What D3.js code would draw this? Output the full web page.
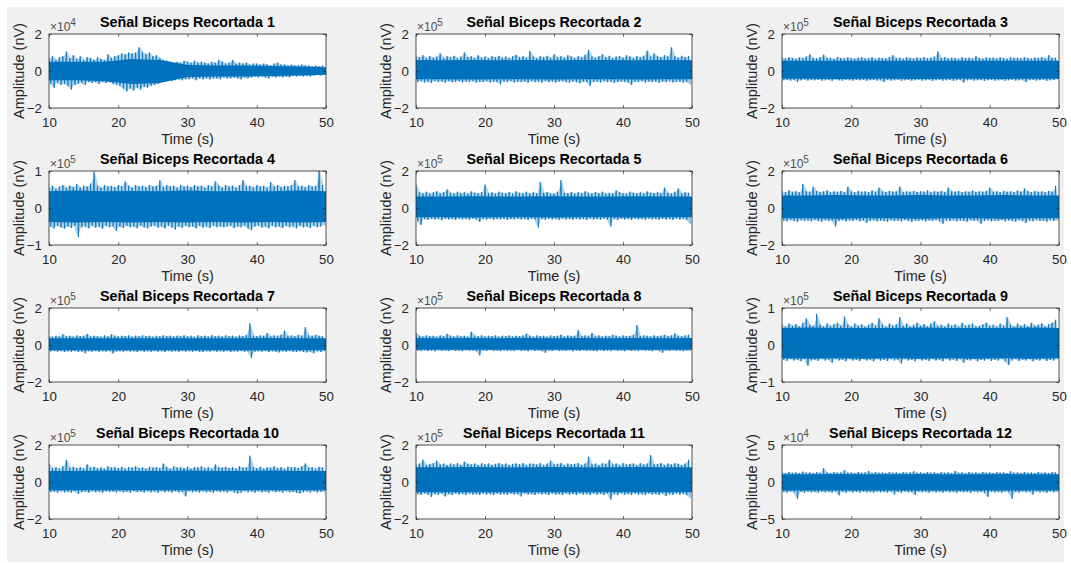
<!DOCTYPE html>
<html><head><meta charset="utf-8">
<script src="https://cdn.jsdelivr.net/npm/d3@7"></script>
<style>
html,body{margin:0;padding:0;background:#fff;}
svg{display:block;font-family:"Liberation Sans",Arial,Helvetica,sans-serif;}
</style></head><body>
<svg id="fig" width="1071" height="563"></svg>
<script>
// Subplot titles, y limits (in units of 10^exponent) and exponents
const titles = [
  "Señal Biceps Recortada 1","Señal Biceps Recortada 2","Señal Biceps Recortada 3",
  "Señal Biceps Recortada 4","Señal Biceps Recortada 5","Señal Biceps Recortada 6",
  "Señal Biceps Recortada 7","Señal Biceps Recortada 8","Señal Biceps Recortada 9",
  "Señal Biceps Recortada 10","Señal Biceps Recortada 11","Señal Biceps Recortada 12"
];
const yLimits   = [2,2,2,1,2,2,2,2,1,2,2,5];
const exponents = [4,5,5,5,5,5,5,5,5,5,5,4];
const timeTicks = [10,20,30,40,50];
const xLabel = "Time (s)";
const yLabel = "Amplitude (nV)";

// Signal envelopes: peak (upper) and trough (lower) per 0.5 s window, 10 s to 50 s
const binStart = 10, binWidth = 0.5;
const upper1 = [0.7,0.8,0.6,0.75,0.8,1.05,0.7,0.85,0.65,0.8,0.6,0.75,0.7,0.6,0.75,0.65,0.6,0.9,0.7,0.8,0.85,0.95,0.9,1.0,0.95,1.0,1.28,1.0,0.9,1.0,0.8,0.85,0.7,0.6,0.55,0.5,0.45,0.5,0.45,0.55,0.5,0.45,0.55,0.45,0.5,0.45,0.4,0.5,0.45,0.6,0.5,0.4,0.45,0.6,0.4,0.45,0.4,0.45,0.35,0.4,0.4,0.35,0.4,0.35,0.3,0.4,0.45,0.35,0.35,0.3,0.35,0.3,0.3,0.35,0.3,0.3,0.25,0.3,0.25,0.3];
const lower1 = [-0.7,-0.9,-0.65,-0.75,-0.7,-0.8,-1.0,-0.75,-0.7,-0.65,-0.75,-0.6,-0.65,-0.6,-0.7,-0.6,-0.65,-0.6,-0.7,-0.75,-0.8,-0.95,-1.1,-0.95,-1.05,-0.9,-1.0,-0.85,-0.9,-0.8,-0.75,-0.7,-0.6,-0.55,-0.5,-0.55,-0.5,-0.45,-0.5,-0.45,-0.45,-0.4,-0.5,-0.4,-0.45,-0.4,-0.45,-0.4,-0.4,-0.45,-0.35,-0.4,-0.4,-0.35,-0.4,-0.45,-0.35,-0.4,-0.35,-0.3,-0.35,-0.3,-0.35,-0.4,-0.3,-0.35,-0.3,-0.35,-0.3,-0.35,-0.25,-0.3,-0.25,-0.3,-0.25,-0.3,-0.25,-0.2,-0.25,-0.2];
const upper2 = [0.8,0.75,0.85,0.7,0.8,0.72,0.78,0.95,0.7,0.8,0.75,0.82,0.7,0.78,1.0,0.75,0.8,0.7,0.85,0.72,0.78,0.7,0.8,0.75,0.82,0.72,0.78,0.7,0.8,0.88,0.75,0.8,0.72,1.08,0.78,0.7,0.8,0.75,0.82,0.72,0.9,0.75,0.8,0.72,0.85,0.78,0.7,0.8,0.75,0.88,1.14,0.78,0.72,0.8,0.9,0.75,0.82,0.7,0.78,0.8,0.72,0.85,0.78,0.7,0.8,0.75,0.82,1.1,0.78,0.95,0.8,0.75,0.85,0.78,1.28,0.8,0.72,0.82,0.75,0.8];
const lower2 = [-0.6,-0.55,-0.62,-0.58,-0.65,-0.55,-0.6,-0.57,-0.63,-0.55,-0.6,-0.58,-0.55,-0.62,-0.57,-0.6,-0.55,-0.63,-0.58,-0.6,-0.55,-0.62,-0.58,-0.6,-0.72,-0.57,-0.6,-0.55,-0.62,-0.58,-0.6,-0.57,-0.63,-0.55,-0.6,-0.58,-0.62,-0.55,-0.6,-0.57,-0.62,-0.58,-0.55,-0.6,-0.63,-0.57,-0.6,-0.66,-0.58,-0.6,-0.8,-0.6,-0.57,-0.62,-0.55,-0.6,-0.58,-0.63,-0.6,-0.57,-0.6,-0.62,-0.75,-0.58,-0.6,-0.55,-0.62,-0.58,-0.6,-0.57,-0.63,-0.58,-0.6,-0.55,-0.62,-0.6,-0.57,-0.62,-0.58,-0.72];
const upper3 = [0.72,0.68,0.75,0.7,0.66,0.74,0.7,0.78,0.9,0.7,0.68,0.75,0.88,0.7,0.72,0.66,0.76,0.7,0.68,0.74,0.7,0.66,0.72,0.75,0.68,0.7,0.74,0.66,0.72,0.7,0.68,0.76,0.85,0.7,0.72,0.66,0.75,0.7,0.68,0.73,0.7,0.75,0.68,0.72,0.78,1.05,0.7,0.74,0.68,0.72,0.7,0.66,0.74,0.7,0.72,0.68,0.8,0.7,0.66,0.74,0.7,0.72,0.68,0.75,0.7,0.66,0.74,0.7,0.72,0.68,0.75,0.7,0.68,0.73,0.7,0.76,0.68,0.85,0.7,0.72];
const lower3 = [-0.5,-0.47,-0.52,-0.48,-0.58,-0.5,-0.46,-0.52,-0.49,-0.5,-0.47,-0.52,-0.5,-0.48,-0.53,-0.46,-0.5,-0.52,-0.48,-0.5,-0.52,-0.48,-0.5,-0.47,-0.53,-0.5,-0.48,-0.52,-0.5,-0.6,-0.48,-0.52,-0.5,-0.47,-0.53,-0.5,-0.48,-0.52,-0.5,-0.47,-0.52,-0.5,-0.48,-0.53,-0.5,-0.47,-0.52,-0.5,-0.48,-0.53,-0.5,-0.48,-0.62,-0.5,-0.47,-0.52,-0.5,-0.48,-0.53,-0.5,-0.47,-0.52,-0.5,-0.48,-0.53,-0.5,-0.47,-0.52,-0.5,-0.48,-0.6,-0.5,-0.48,-0.52,-0.5,-0.47,-0.53,-0.5,-0.48,-0.46];
const upper4 = [0.55,0.6,0.52,0.58,0.62,0.55,0.6,0.57,0.65,0.55,0.6,0.58,0.66,0.98,0.6,0.55,0.62,0.58,0.6,0.56,0.62,0.58,0.72,0.6,0.55,0.62,0.58,0.6,0.56,0.62,0.58,0.6,0.75,0.57,0.62,0.58,0.6,0.55,0.62,0.58,0.6,0.56,0.62,0.58,0.6,0.55,0.62,0.58,0.72,0.6,0.56,0.62,0.58,0.6,0.55,0.62,0.75,0.58,0.6,0.56,0.62,0.58,0.6,0.55,0.7,0.58,0.62,0.56,0.6,0.58,0.62,0.75,0.58,0.6,0.56,0.62,0.58,0.6,1.0,0.62];
const lower4 = [-0.5,-0.55,-0.48,-0.52,-0.56,-0.5,-0.54,-0.48,-0.79,-0.52,-0.5,-0.55,-0.48,-0.53,-0.5,-0.56,-0.48,-0.52,-0.5,-0.62,-0.5,-0.54,-0.48,-0.52,-0.5,-0.55,-0.48,-0.52,-0.55,-0.5,-0.48,-0.53,-0.5,-0.55,-0.48,-0.52,-0.58,-0.5,-0.54,-0.48,-0.52,-0.5,-0.55,-0.48,-0.53,-0.5,-0.54,-0.48,-0.52,-0.5,-0.52,-0.5,-0.48,-0.54,-0.5,-0.52,-0.48,-0.55,-0.6,-0.5,-0.48,-0.53,-0.5,-0.55,-0.48,-0.52,-0.5,-0.54,-0.48,-0.52,-0.5,-0.55,-0.48,-0.52,-0.5,-0.54,-0.48,-0.52,-0.5,-0.46];
const upper5 = [1.26,0.85,0.8,0.88,0.78,0.85,0.9,0.8,0.86,1.0,0.82,0.78,0.88,0.8,0.85,0.78,0.9,0.82,0.8,0.86,1.26,0.8,0.85,0.78,0.88,0.82,0.8,0.86,0.78,0.9,0.82,0.8,0.88,0.78,0.85,0.8,1.4,0.82,0.86,0.8,0.78,0.88,1.5,0.82,0.8,0.86,0.78,0.85,0.8,0.9,0.82,0.78,0.86,0.8,0.88,0.78,0.82,0.8,0.95,0.85,0.8,0.78,0.88,0.82,0.8,0.85,0.78,0.9,0.82,0.8,0.86,0.8,1.1,0.82,0.78,0.88,1.05,0.8,0.85,0.82];
const lower5 = [-0.7,-0.92,-0.6,-0.65,-0.58,-0.62,-0.6,-0.66,-0.58,-0.62,-0.6,-0.65,-0.58,-0.62,-0.6,-0.64,-0.58,-0.62,-0.75,-0.6,-0.62,-0.58,-0.64,-0.6,-0.62,-0.58,-0.65,-0.6,-0.62,-0.58,-0.62,-0.6,-0.65,-0.58,-0.62,-1.05,-0.6,-0.64,-0.58,-0.62,-0.6,-0.65,-0.58,-0.62,-0.6,-0.64,-0.58,-0.62,-0.6,-0.65,-0.58,-0.62,-0.6,-0.64,-0.58,-0.62,-1.0,-0.6,-0.65,-0.58,-0.62,-0.6,-0.64,-0.58,-0.62,-0.6,-0.65,-0.58,-0.62,-0.6,-0.64,-0.58,-0.62,-0.6,-0.65,-0.58,-0.62,-0.6,-0.64,-0.85];
const upper6 = [0.9,0.85,0.95,0.88,0.9,0.85,1.3,0.9,0.88,1.15,0.92,0.86,0.9,0.95,0.85,0.9,0.88,0.92,0.86,1.15,0.9,0.85,0.92,0.88,0.9,0.86,0.95,0.88,1.1,0.9,0.86,0.92,0.88,0.9,1.15,0.85,0.9,0.88,0.92,0.86,0.9,0.88,0.95,0.85,0.9,0.88,0.92,0.86,1.1,0.9,0.88,0.92,0.85,0.9,0.88,0.95,0.86,0.9,0.88,0.92,1.1,0.88,0.9,0.85,0.92,0.88,0.9,0.86,0.95,0.88,1.05,0.9,0.86,0.92,0.88,0.9,0.85,0.92,0.88,1.2];
const lower6 = [-0.68,-0.72,-0.65,-0.7,-0.74,-0.66,-0.7,-0.68,-0.72,-0.65,-0.7,-0.74,-0.66,-0.7,-0.68,-1.0,-0.7,-0.66,-0.72,-0.68,-0.7,-0.65,-0.72,-0.68,-0.8,-0.7,-0.66,-0.72,-0.68,-0.7,-0.74,-0.66,-0.7,-0.68,-0.72,-0.65,-0.7,-0.74,-0.68,-0.7,-0.66,-0.72,-0.68,-0.7,-0.65,-0.72,-0.85,-0.68,-0.7,-0.66,-0.72,-0.68,-0.7,-0.74,-0.66,-0.7,-0.68,-0.85,-0.7,-0.66,-0.72,-0.68,-0.7,-0.65,-0.72,-0.68,-0.7,-0.74,-0.66,-0.7,-0.8,-0.68,-0.72,-0.66,-0.7,-0.68,-0.74,-0.66,-0.7,-0.68];
const upper7 = [0.48,0.45,0.5,0.46,0.58,0.47,0.5,0.45,0.52,0.48,0.5,0.6,0.46,0.5,0.48,0.45,0.52,0.47,0.58,0.5,0.46,0.5,0.48,0.52,0.45,0.5,0.47,0.52,0.48,0.5,0.45,0.5,0.47,0.52,0.48,0.5,0.46,0.5,0.48,0.52,0.47,0.5,0.45,0.52,0.48,0.5,0.46,0.53,0.48,0.5,0.46,0.52,0.48,0.5,0.45,0.52,0.48,0.55,1.17,0.5,0.48,0.52,0.5,0.65,0.48,0.52,0.5,0.55,0.78,0.5,0.52,0.48,0.55,0.5,0.96,0.52,0.5,0.55,0.5,0.48];
const lower7 = [-0.35,-0.32,-0.36,-0.33,-0.38,-0.34,-0.36,-0.32,-0.38,-0.35,-0.45,-0.34,-0.36,-0.33,-0.37,-0.34,-0.36,-0.33,-0.45,-0.35,-0.34,-0.37,-0.33,-0.36,-0.34,-0.38,-0.33,-0.36,-0.34,-0.37,-0.33,-0.36,-0.34,-0.38,-0.33,-0.36,-0.34,-0.37,-0.33,-0.36,-0.34,-0.37,-0.33,-0.36,-0.38,-0.34,-0.36,-0.33,-0.37,-0.34,-0.36,-0.33,-0.38,-0.34,-0.36,-0.33,-0.37,-0.34,-0.7,-0.36,-0.34,-0.37,-0.33,-0.38,-0.34,-0.36,-0.4,-0.34,-0.37,-0.33,-0.36,-0.38,-0.34,-0.37,-0.4,-0.36,-0.45,-0.34,-0.37,-0.35];
const upper8 = [0.65,0.5,0.46,0.52,0.48,0.5,0.45,0.52,0.48,0.6,0.5,0.46,0.52,0.48,0.5,0.45,0.72,0.5,0.48,0.52,0.46,0.5,0.48,0.52,0.45,0.5,0.48,0.52,0.46,0.5,0.48,0.52,0.62,0.5,0.46,0.52,0.48,0.5,0.45,0.52,0.48,0.5,0.55,0.46,0.52,0.48,0.5,0.8,0.48,0.52,0.5,0.65,0.48,0.52,0.46,0.5,0.48,0.55,0.5,0.46,0.52,0.48,0.5,0.55,1.08,0.48,0.52,0.5,0.46,0.52,0.48,0.5,0.55,0.48,0.52,0.62,0.5,0.48,0.52,0.55];
const lower8 = [-0.3,-0.33,-0.28,-0.32,-0.3,-0.34,-0.28,-0.32,-0.3,-0.33,-0.28,-0.32,-0.3,-0.34,-0.28,-0.32,-0.3,-0.33,-0.56,-0.3,-0.32,-0.28,-0.33,-0.3,-0.34,-0.28,-0.32,-0.3,-0.33,-0.28,-0.32,-0.3,-0.34,-0.28,-0.32,-0.3,-0.33,-0.42,-0.3,-0.32,-0.28,-0.33,-0.3,-0.32,-0.28,-0.34,-0.3,-0.32,-0.28,-0.33,-0.3,-0.32,-0.34,-0.28,-0.32,-0.3,-0.33,-0.28,-0.32,-0.3,-0.34,-0.28,-0.32,-0.3,-0.33,-0.28,-0.32,-0.3,-0.34,-0.28,-0.32,-0.42,-0.3,-0.33,-0.28,-0.32,-0.3,-0.34,-0.3,-0.32];
const upper9 = [0.55,0.5,0.58,0.52,0.56,0.5,0.6,0.72,0.55,0.52,0.84,0.55,0.5,0.58,0.52,0.56,0.6,0.52,0.77,0.55,0.5,0.58,0.52,0.56,0.5,0.55,0.6,0.52,0.72,0.55,0.5,0.58,0.52,0.56,0.75,0.52,0.58,0.5,0.55,0.6,0.52,0.56,0.5,0.58,0.64,0.52,0.55,0.5,0.58,0.52,0.56,0.5,0.6,0.52,0.55,0.58,0.5,0.52,0.56,0.6,0.52,0.55,0.5,0.58,0.52,0.75,0.55,0.5,0.58,0.52,0.56,0.5,0.6,0.52,0.55,0.58,0.5,0.56,0.6,0.68];
const lower9 = [-0.4,-0.43,-0.38,-0.42,-0.4,-0.44,-0.38,-0.56,-0.42,-0.4,-0.43,-0.38,-0.42,-0.4,-0.48,-0.38,-0.42,-0.4,-0.44,-0.38,-0.42,-0.4,-0.43,-0.38,-0.42,-0.4,-0.44,-0.38,-0.42,-0.4,-0.43,-0.38,-0.42,-0.4,-0.5,-0.38,-0.42,-0.4,-0.44,-0.38,-0.42,-0.4,-0.43,-0.38,-0.42,-0.4,-0.44,-0.38,-0.42,-0.4,-0.43,-0.38,-0.48,-0.4,-0.42,-0.38,-0.44,-0.4,-0.42,-0.38,-0.43,-0.4,-0.42,-0.38,-0.44,-0.54,-0.42,-0.38,-0.43,-0.4,-0.42,-0.38,-0.44,-0.4,-0.42,-0.38,-0.43,-0.4,-0.42,-0.38];
const upper10 = [1.0,0.75,0.8,0.72,0.85,1.2,0.78,0.82,0.75,0.8,0.72,0.95,0.78,0.82,0.75,0.8,0.72,0.85,0.78,0.8,0.75,0.82,0.72,0.8,0.78,0.85,0.75,0.8,0.72,0.82,0.78,0.8,0.75,1.0,0.8,0.72,0.85,0.78,0.8,0.75,0.82,0.72,0.8,0.78,0.85,0.75,0.8,0.72,0.95,0.8,0.78,0.82,0.75,0.8,0.72,0.85,0.78,0.8,1.42,0.8,0.75,0.82,0.72,0.8,0.78,0.85,0.75,0.8,0.72,0.82,0.78,0.8,0.75,0.85,1.0,0.78,0.8,0.72,0.82,0.78];
const lower10 = [-0.55,-0.52,-0.58,-0.5,-0.56,-0.53,-0.58,-0.5,-0.65,-0.55,-0.52,-0.58,-0.5,-0.56,-0.53,-0.58,-0.5,-0.55,-0.52,-0.57,-0.5,-0.56,-0.53,-0.58,-0.5,-0.55,-0.52,-0.57,-0.5,-0.56,-0.53,-0.58,-0.5,-0.55,-0.52,-0.57,-0.5,-0.56,-0.53,-0.78,-0.5,-0.55,-0.52,-0.57,-0.5,-0.56,-0.53,-0.58,-0.5,-0.55,-0.52,-0.57,-0.5,-0.56,-0.62,-0.58,-0.5,-0.55,-0.52,-0.57,-0.5,-0.56,-0.53,-0.58,-0.5,-0.55,-0.52,-0.57,-0.5,-0.56,-0.53,-0.58,-0.62,-0.55,-0.52,-0.57,-0.5,-0.56,-0.53,-0.55];
const upper11 = [0.95,1.0,1.2,0.92,0.98,1.02,1.15,0.95,1.0,0.92,1.0,0.95,1.02,0.92,1.1,0.98,0.95,1.0,0.92,1.02,0.95,1.0,0.92,0.98,1.02,0.95,1.0,0.92,0.98,1.0,0.95,1.02,0.92,1.0,0.98,0.95,1.02,0.92,1.0,1.15,0.95,0.98,1.02,0.92,1.0,0.95,0.98,1.02,0.92,1.0,1.37,0.95,1.0,0.92,1.02,0.98,1.2,0.95,1.0,0.92,1.02,0.95,0.98,1.0,0.92,1.02,0.95,1.0,1.46,0.95,0.98,1.02,0.92,1.0,0.95,1.02,0.98,0.92,1.0,1.2];
const lower11 = [-0.65,-0.7,-0.62,-0.68,-0.8,-0.65,-0.7,-0.62,-0.78,-0.66,-0.7,-0.62,-0.68,-0.65,-0.7,-0.62,-0.68,-0.66,-0.7,-0.62,-0.68,-0.65,-0.7,-0.62,-0.68,-0.66,-0.7,-0.62,-0.68,-0.65,-0.78,-0.62,-0.68,-0.66,-0.7,-0.62,-0.68,-0.65,-0.7,-0.62,-0.68,-0.66,-0.7,-0.62,-0.68,-0.65,-0.7,-0.62,-0.68,-0.66,-0.7,-0.62,-0.68,-0.65,-0.7,-0.62,-0.95,-0.66,-0.7,-0.62,-0.68,-0.65,-0.7,-0.62,-0.68,-0.66,-0.7,-0.62,-0.68,-0.65,-0.7,-0.62,-0.75,-0.66,-0.7,-0.62,-0.68,-0.65,-0.7,-0.85];
const upper12 = [1.3,1.2,1.35,1.25,1.3,1.2,1.4,1.25,1.3,1.22,1.35,1.25,1.9,1.3,1.2,1.35,1.25,1.3,1.6,1.25,1.3,1.2,1.35,1.25,1.3,1.5,1.22,1.35,1.25,1.3,1.2,1.35,1.25,1.3,1.22,1.35,1.25,1.3,1.45,1.25,1.3,1.22,1.35,1.25,1.3,1.2,1.35,1.25,1.3,1.22,1.5,1.25,1.3,1.22,1.35,1.25,1.3,1.2,1.35,1.25,1.3,1.22,1.35,1.25,1.3,1.2,1.45,1.25,1.3,1.22,1.35,1.25,1.3,1.2,1.35,1.25,1.3,1.22,1.35,1.3];
const lower12 = [-1.35,-1.45,-1.3,-1.4,-2.25,-1.35,-1.45,-1.3,-1.4,-1.35,-1.45,-1.3,-1.4,-1.35,-1.45,-1.3,-1.8,-1.35,-1.45,-1.3,-1.4,-1.35,-1.45,-1.3,-1.4,-1.35,-1.45,-1.3,-1.4,-1.35,-1.45,-1.3,-1.7,-1.35,-1.45,-1.3,-1.4,-1.35,-1.75,-1.3,-1.4,-1.35,-1.45,-1.3,-1.4,-1.35,-1.45,-1.3,-1.4,-1.35,-1.45,-1.3,-1.4,-1.35,-1.45,-1.3,-1.4,-1.35,-1.45,-2.0,-1.3,-1.4,-1.35,-1.45,-1.3,-1.4,-2.25,-1.35,-1.45,-1.3,-1.4,-1.35,-1.7,-1.3,-1.4,-1.35,-1.45,-1.3,-1.4,-1.35];

// Dense core of each signal, sampled every 4 s
const coreTimes = [10,14,18,22,26,30,34,38,42,46,50];
const coreHigh = [
  [0.5,0.5,0.5,0.65,0.6,0.33,0.3,0.3,0.27,0.24,0.2],
  [0.6,0.58,0.6,0.58,0.6,0.58,0.6,0.6,0.58,0.6,0.58],
  [0.55,0.55,0.56,0.55,0.55,0.56,0.55,0.55,0.56,0.55,0.55],
  [0.45,0.47,0.45,0.46,0.45,0.47,0.45,0.46,0.45,0.47,0.45],
  [0.62,0.62,0.63,0.62,0.62,0.63,0.62,0.62,0.63,0.62,0.62],
  [0.68,0.68,0.7,0.68,0.68,0.7,0.68,0.68,0.7,0.68,0.68],
  [0.36,0.36,0.37,0.36,0.36,0.37,0.36,0.37,0.38,0.37,0.36],
  [0.38,0.37,0.38,0.37,0.38,0.37,0.38,0.37,0.38,0.37,0.38],
  [0.46,0.47,0.46,0.46,0.46,0.47,0.46,0.46,0.46,0.47,0.46],
  [0.6,0.6,0.62,0.6,0.6,0.62,0.6,0.6,0.62,0.6,0.6],
  [0.8,0.8,0.81,0.8,0.8,0.81,0.8,0.8,0.81,0.8,0.8],
  [1.05,1.05,1.07,1.05,1.05,1.07,1.05,1.05,1.07,1.05,1.05]
];
const coreLow = [
  [-0.5,-0.5,-0.55,-0.7,-0.65,-0.33,-0.3,-0.3,-0.27,-0.24,-0.2],
  [-0.45,-0.45,-0.46,-0.45,-0.45,-0.46,-0.45,-0.45,-0.46,-0.45,-0.45],
  [-0.42,-0.42,-0.43,-0.42,-0.42,-0.43,-0.42,-0.42,-0.43,-0.42,-0.42],
  [-0.38,-0.39,-0.38,-0.39,-0.38,-0.39,-0.38,-0.39,-0.38,-0.39,-0.38],
  [-0.5,-0.5,-0.51,-0.5,-0.5,-0.51,-0.5,-0.5,-0.51,-0.5,-0.5],
  [-0.56,-0.56,-0.58,-0.56,-0.56,-0.58,-0.56,-0.56,-0.58,-0.56,-0.56],
  [-0.28,-0.28,-0.29,-0.28,-0.28,-0.29,-0.28,-0.28,-0.29,-0.28,-0.28],
  [-0.25,-0.25,-0.26,-0.25,-0.25,-0.26,-0.25,-0.25,-0.26,-0.25,-0.25],
  [-0.36,-0.37,-0.36,-0.37,-0.36,-0.37,-0.36,-0.37,-0.36,-0.37,-0.36],
  [-0.44,-0.44,-0.45,-0.44,-0.44,-0.45,-0.44,-0.44,-0.45,-0.44,-0.44],
  [-0.55,-0.55,-0.56,-0.55,-0.55,-0.56,-0.55,-0.55,-0.56,-0.55,-0.55],
  [-1.15,-1.15,-1.16,-1.15,-1.15,-1.16,-1.15,-1.15,-1.16,-1.15,-1.15]
];

const uppers = [upper1,upper2,upper3,upper4,upper5,upper6,upper7,upper8,upper9,upper10,upper11,upper12];
const lowers = [lower1,lower2,lower3,lower4,lower5,lower6,lower7,lower8,lower9,lower10,lower11,lower12];

// Figure layout
const W = 1071, H = 563;
const colLeft = [49, 416, 782];
const colWidth = [277, 276, 277];
const rowTop = [34, 171, 308, 445];
const axH = 74;
const lineColor = "#0072BD";
const axisColor = "#262626";
const tickLen = 2.8;
const fontStack = '"Liberation Sans",Arial,Helvetica,sans-serif';

const svg = d3.select("#fig");
svg.append("rect").attr("x", 7).attr("y", 7).attr("width", W - 14).attr("height", H - 8)
  .attr("fill", "#f0f0f0");

titles.forEach((title, k) => {
  const r = Math.floor(k / 3), c = k % 3;
  const left = colLeft[c], top = rowTop[r], w = colWidth[c];
  const lim = yLimits[k];
  const x = d3.scaleLinear().domain([10, 50]).range([left, left + w]);
  const y = d3.scaleLinear().domain([-lim, lim]).range([top + axH, top]);

  const g = svg.append("g");
  g.append("rect").attr("x", left).attr("y", top).attr("width", w).attr("height", axH).attr("fill", "#fff");

  const clipId = "clip" + k;
  g.append("clipPath").attr("id", clipId)
    .append("rect").attr("x", left).attr("y", top).attr("width", w).attr("height", axH);
  const plot = g.append("g").attr("clip-path", `url(#${clipId})`);

  // window extremes
  const bins = uppers[k].map((u, i) => ({t: binStart + i * binWidth, hi: u, lo: lowers[k][i]}));

  // sparse outer fringe of the trace, between the window extremes
  plot.append("path").datum(bins)
    .attr("fill", lineColor).attr("fill-opacity", 0.3)
    .attr("d", d3.area().x(d => x(d.t + binWidth / 4)).y0(d => y(d.lo)).y1(d => y(d.hi)));

  // dense core band
  const core = coreTimes.map((t, i) => ({t, hi: coreHigh[k][i], lo: coreLow[k][i]}));
  plot.append("path").datum(core)
    .attr("fill", lineColor)
    .attr("d", d3.area().x(d => x(d.t)).y0(d => y(d.lo)).y1(d => y(d.hi)));

  // signal trace alternating between window peaks and troughs
  const pts = [];
  bins.forEach(b => {
    pts.push({t: b.t, v: b.hi});
    pts.push({t: b.t + binWidth / 2, v: b.lo});
  });
  plot.append("path").datum(pts)
    .attr("fill", "none").attr("stroke", lineColor).attr("stroke-width", 0.8)
    .attr("d", d3.line().x(d => x(d.t)).y(d => y(d.v)));

  // axes (ticks pointing inward, mirrored on top and right)
  const fmt = d3.format("d");
  const bottom = g.append("g").attr("transform", `translate(0,${top + axH})`)
    .call(d3.axisBottom(x).tickValues(timeTicks).tickSize(-tickLen).tickSizeOuter(0).tickPadding(9.6).tickFormat(fmt));
  const topAx = g.append("g").attr("transform", `translate(0,${top})`)
    .call(d3.axisTop(x).tickValues(timeTicks).tickSize(-tickLen).tickSizeOuter(0).tickFormat(""));
  const yTicks = [-lim, 0, lim];
  const leftAx = g.append("g").attr("transform", `translate(${left},0)`)
    .call(d3.axisLeft(y).tickValues(yTicks).tickSize(-tickLen).tickSizeOuter(0).tickPadding(7).tickFormat(fmt));
  const rightAx = g.append("g").attr("transform", `translate(${left + w},0)`)
    .call(d3.axisRight(y).tickValues(yTicks).tickSize(-tickLen).tickSizeOuter(0).tickFormat(""));
  [bottom, topAx, leftAx, rightAx].forEach(a => {
    a.select(".domain").remove();
    a.selectAll("line").attr("stroke", axisColor).attr("stroke-width", 0.7);
    a.selectAll("text").attr("fill", axisColor).style("font-size", "13.3px").style("font-family", fontStack);
  });
  g.append("rect").attr("x", left).attr("y", top).attr("width", w).attr("height", axH)
    .attr("fill", "none").attr("stroke", axisColor).attr("stroke-width", 0.8);

  // exponent
  const ex = g.append("text").attr("x", left + 1).attr("y", top - 3.5)
    .attr("fill", "#4d4d4d").style("font-size", "12px");
  ex.append("tspan").text("×10");
  ex.append("tspan").attr("dy", -5).style("font-size", "10px").text(exponents[k]);

  // title
  g.append("text").attr("x", left + w / 2).attr("y", top - 7.5)
    .attr("text-anchor", "middle").attr("fill", "#000")
    .style("font-size", "14.3px").style("font-weight", "bold").text(title);

  // axis labels
  g.append("text").attr("x", left + w / 2).attr("y", top + axH + 36)
    .attr("text-anchor", "middle").attr("fill", axisColor).style("font-size", "14.5px").text(xLabel);
  g.append("text").attr("transform", `translate(${left - 25},${top + axH / 2}) rotate(-90)`)
    .attr("text-anchor", "middle").attr("fill", axisColor).style("font-size", "14.5px").text(yLabel);
});
</script>
</body></html>
